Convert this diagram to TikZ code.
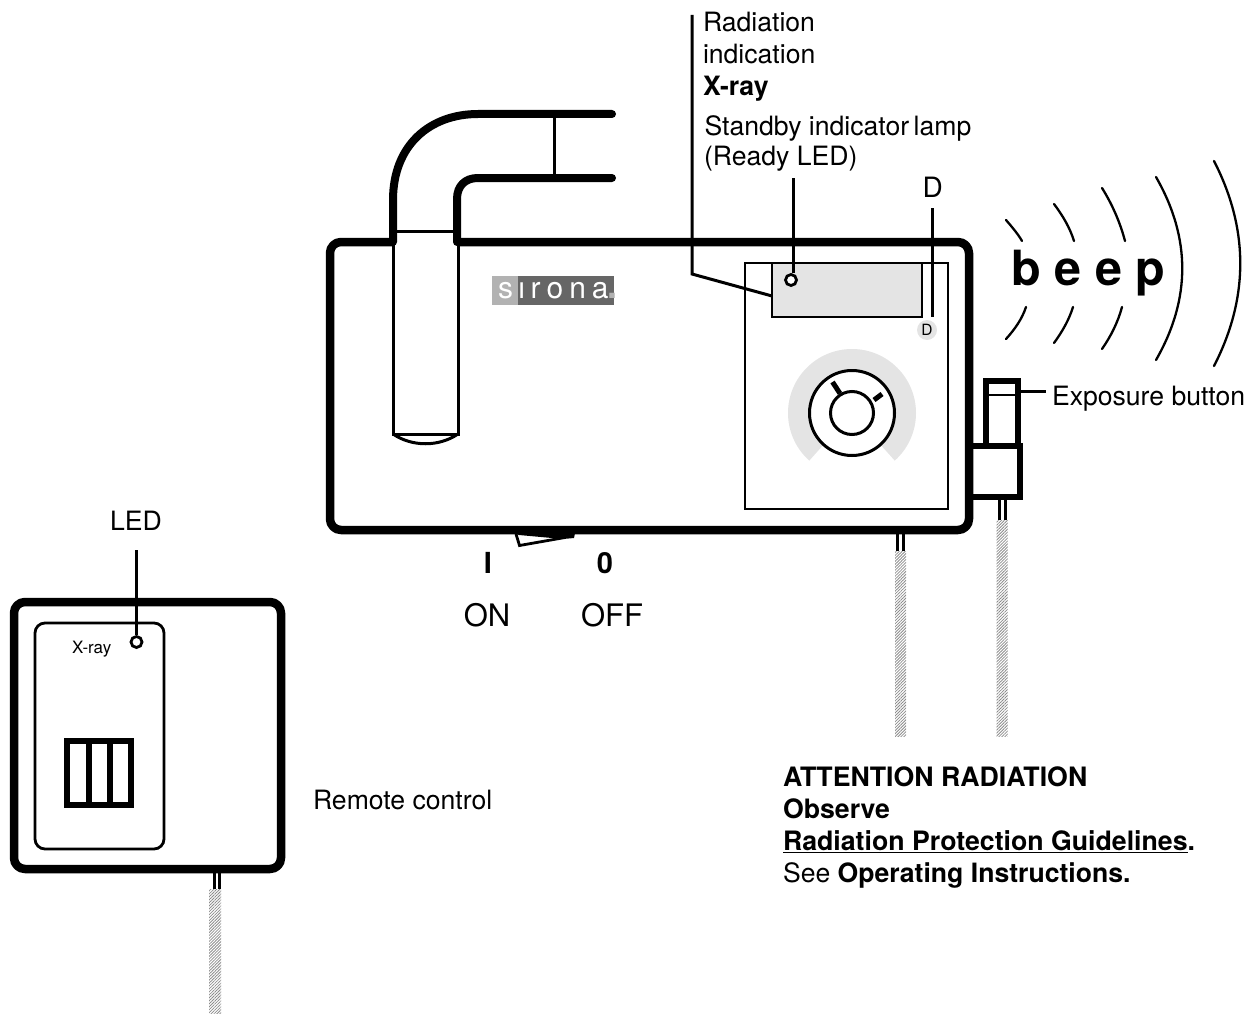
\documentclass[tikz,border=0pt]{standalone}
\usepackage{fontspec}
\setmainfont{TeX Gyre Heros}
\usetikzlibrary{patterns.meta}
\definecolor{panelgray}{gray}{0.895}
\definecolor{logodark}{gray}{0.40}
\definecolor{logolight}{gray}{0.70}
\tikzset{
  x=1pt,y=-1pt,
  heavy/.style={line width=8.5pt,line join=round,rounded corners=11pt},
  tubeline/.style={line width=8pt,line cap=round},
  medium/.style={line width=2.8pt},
  thin line/.style={line width=3pt},
  button/.style={line width=5.5pt,line join=miter},
  arcline/.style={line width=2.3pt,line cap=round},
  hatchstrip/.style={pattern={Lines[angle=45,distance=2.1pt,line width=.8pt]},pattern color=black!45},
  lbl/.style={inner sep=0pt,outer sep=0pt,anchor=base west,font=\fontsize{26.6}{32}\selectfont},
  led/.style={circle,draw,line width=2.8pt,fill=white,inner sep=0pt,minimum size=11pt},
}
\begin{document}
\begin{tikzpicture}
\useasboundingbox (0,0) rectangle (1258,1014);
% main housing
\draw[heavy] (393,242) -- (330,242) -- (330,530) -- (969,530) -- (969,242) -- (457,242);
% tube
\draw[tubeline] (393,242) -- (393,200) .. controls (393,145) and (430,114) .. (478,114) -- (612,114);
\draw[tubeline] (457,242) -- (457,199) .. controls (457,186) and (465,178) .. (478,178) -- (612,178);
\draw[thin line] (554,114) -- (554,178);
\draw[thin line] (393,231) -- (457,231);
\draw[thin line] (393,242) -- (393,434) -- (458,434) -- (458,242);
\draw[thin line] (393,434) .. controls (412,447) and (439,447) .. (458,434);
% logo
\fill[logolight] (492,276) rectangle (518,305);
\fill[logodark] (518,276) rectangle (614,305);
\node[lbl,text=white,font=\fontsize{30}{30}\selectfont] (logo) at (498,298) {s\kern5.5ptı\kern5.5ptr\kern6pto\kern6ptn\kern6pta\kern-1.5pt\textcolor{logolight}{\bfseries\fontsize{36}{36}\selectfont .}};
% control panel
\draw[medium] (745,263) rectangle (948,509);
\draw[medium,fill=panelgray] (772,263) rectangle (922,317);
\node[led] (ready) at (791,280) {};
\node[circle,fill=panelgray,minimum size=20pt,inner sep=0pt,font=\fontsize{15.5}{15}\selectfont] (dlamp) at (927,330) {D};
% dial
\fill[panelgray] (852,413) circle (64);
\fill[white] (852,413) -- (785,488) -- (919,488) -- cycle;
\node[circle,draw,line width=3pt,fill=white,minimum size=85pt,inner sep=0pt] (dial) at (852,413) {};
\node[circle,draw,line width=3pt,fill=white,minimum size=43pt,inner sep=0pt] (knob) at (852,413) {};
\draw[line width=5pt] (832.5,382) -- (840,393.5);
\draw[line width=5pt] (882,394) -- (874,400);
% exposure button
\draw[button] (986,443) -- (986,381) -- (1018,381) -- (1018,443);
\draw[line width=2.2pt] (986,395) -- (1018,395);
\draw[line width=3pt] (1018,391) -- (1046,391);
\draw[line width=5.5pt] (972,446) -- (1020,446) -- (1020,497) -- (972,497);
% switch
\fill (515,533) -- (575,533) -- (574,538) -- (563,539) -- (519,535) -- cycle;
\draw[line width=2.8pt] (516,534) -- (519.5,545.5) -- (565,537.5);
% cables
\draw[line width=3pt] (897.5,534) -- (897.5,551) (903,534) -- (903,551);
\draw[line width=3pt] (999.5,498) -- (999.5,520) (1005,498) -- (1005,520);
\fill[hatchstrip] (895,551) rectangle (906,736);
\fill[hatchstrip] (996.5,520) rectangle (1007.5,736);
% leaders
\coordinate (radtop) at (692,15);
\coordinate (radbend) at (692,274);
\coordinate (radend) at (772,296);
\draw[thin line] (radtop) -- (radbend) -- (radend);
\coordinate (stdtop) at (793,178);
\draw[thin line] (stdtop) -- (ready.north -| stdtop);
\coordinate (dtop) at (932,208);
\coordinate (dend) at (932,317);
\draw[thin line] (dtop) -- (dend);
% labels
\node[lbl] (rad1) at (703,32) {Radiation};
\node[lbl] (rad2) at (703,64) {indication};
\node[lbl] (rad3) at (703,96) {\bfseries X-ray};
\node[lbl] (std1) at (704.5,135.5) {Standby indicator\kern-3pt\ lamp};
\node[lbl] (std2) at (704,165) {(Ready LED)};
\node[lbl,font=\fontsize{28}{32}\selectfont] (dlabel) at (922.5,197) {D};
\node[lbl] (expo) at (1052,405) {Exposure button};
\node[lbl,font=\bfseries\fontsize{29}{32}\selectfont,anchor=base] (switchI) at (488,573) {I};
\node[lbl,font=\bfseries\fontsize{29}{32}\selectfont,anchor=base] (switch0) at (605,573) {0};
\node[lbl,font=\fontsize{31}{32}\selectfont,anchor=base] (on) at (487,626) {ON};
\node[lbl,font=\fontsize{31}{32}\selectfont,anchor=base] (off) at (612,626) {OFF};
\node[lbl,font=\bfseries\fontsize{48.5}{48}\selectfont] (beep) at (1011.5,285.5) {b e e p};
% beep arcs
\draw[arcline] (1006,220) .. controls (1012,227) and (1018,234) .. (1022,241);
\draw[arcline] (1026,307) .. controls (1022,319) and (1015,329) .. (1006,339);
\draw[arcline] (1054,204) .. controls (1063,216) and (1070,228) .. (1074,241);
\draw[arcline] (1073,307) .. controls (1069,320) and (1062,332) .. (1054,343);
\draw[arcline] (1102,188) .. controls (1112,204) and (1120,222) .. (1125,241);
\draw[arcline] (1122,307) .. controls (1118,322) and (1111,336) .. (1102,349);
\draw[arcline] (1156,177) .. controls (1191,238) and (1191,299) .. (1156,360);
\draw[arcline] (1214,161) .. controls (1249,229) and (1249,298) .. (1214,366);
% attention text
\node[lbl,font=\bfseries\fontsize{26.7}{32}\selectfont] (att1) at (783,786) {ATTENTION RADIATION};
\node[lbl,font=\bfseries\fontsize{26.7}{32}\selectfont] (att2) at (783,818) {Observe};
\node[lbl,font=\bfseries\fontsize{26.7}{32}\selectfont] (att3) at (783,850) {\underline{Radiation Protection Guidelines}.};
\node[lbl] (att4) at (783,882) {See \textbf{Operating Instructions.}};
% remote control
\draw[heavy] (14,602) rectangle (281,869);
\draw[line width=2.8pt,rounded corners=10pt] (35,623) rectangle (164,849);
\node[led] (rled) at (136.5,642) {};
\node[lbl,font=\fontsize{17}{16}\selectfont] (xray) at (72,653.5) {X-ray};
\draw[line width=6.5pt] (67,741) rectangle (131,805);
\draw[line width=5.8pt] (89,741) -- (89,805) (110,741) -- (110,805);
\node[lbl,anchor=base] (ledlabel) at (136,530) {LED};
\coordinate (ledtop) at (136,550);
\draw[thin line] (ledtop) -- (rled.north -| ledtop);
\node[lbl] (remote) at (313,809) {Remote control};
\draw[line width=3pt] (214,873) -- (214,889) (219,873) -- (219,889);
\fill[hatchstrip] (209,889) rectangle (221,1014);
\end{tikzpicture}
\end{document}
